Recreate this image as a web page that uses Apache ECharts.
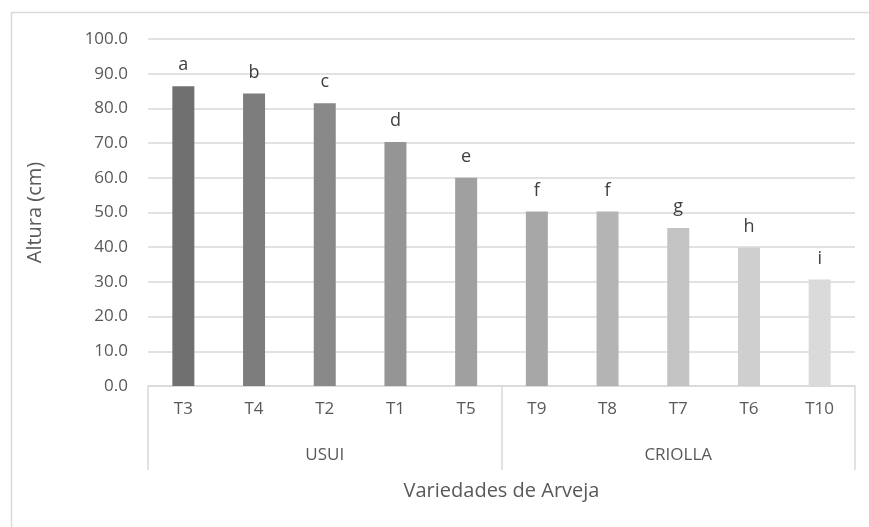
<!DOCTYPE html>
<html>
<head>
<meta charset="utf-8">
<script src="https://cdn.jsdelivr.net/npm/echarts@6/dist/echarts.min.js"></script>
<style>
  html, body { margin: 0; padding: 0; background: #fff; }
  #chart { width: 869px; height: 527px; }
</style>
</head>
<body>
<div id="chart"></div>
<script>
// Plant height by treatment, grouped by pea variety
const treatments = ['T3', 'T4', 'T2', 'T1', 'T5', 'T9', 'T8', 'T7', 'T6', 'T10'];
const heights = [86.4, 84.3, 81.5, 70.3, 60.0, 50.3, 50.3, 45.5, 39.9, 30.7];
const letters = ['a', 'b', 'c', 'd', 'e', 'f', 'f', 'g', 'h', 'i'];
const varieties = ['USUI', 'CRIOLLA'];
const barColors = ['#707070', '#7d7d7d', '#898989', '#959595', '#a0a0a0',
                   '#a7a7a7', '#b4b4b4', '#c3c3c3', '#cfcfcf', '#dadada'];
const yTicks = [0, 10, 20, 30, 40, 50, 60, 70, 80, 90, 100];

const FONT = 'Open Sans';
const TXT = '#595959';
const LINE = '#d9d9d9';

const chart = echarts.init(document.getElementById('chart'));
chart.setOption({
  animation: false,
  textStyle: { fontFamily: FONT },
  graphic: [{
    type: 'rect',
    shape: { x: 11.5, y: 12.5, width: 900, height: 600 },
    style: { fill: 'none', stroke: LINE, lineWidth: 1.5 },
    silent: true
  }],
  grid: { left: 148, right: 14, top: 39, bottom: 141, containLabel: false },
  xAxis: [{
    type: 'category',
    data: treatments,
    position: 'bottom',
    axisLine: { show: true, lineStyle: { color: LINE, width: 1.5 } },
    axisTick: { show: false },
    axisLabel: { color: TXT, fontSize: 17, margin: 15, fontFamily: FONT }
  }, {
    type: 'category',
    data: varieties,
    position: 'bottom',
    axisLine: { show: false },
    axisTick: { show: true, length: 84, lineStyle: { color: LINE, width: 1.5 } },
    axisLabel: { color: TXT, fontSize: 17, margin: 61, fontFamily: FONT },
    name: 'Variedades de Arveja',
    nameLocation: 'middle',
    nameGap: 95,
    nameTextStyle: { color: TXT, fontSize: 20, fontFamily: FONT }
  }],
  yAxis: {
    type: 'value',
    min: yTicks[0],
    max: yTicks[yTicks.length - 1],
    interval: 10,
    axisLine: { show: false },
    axisTick: { show: false },
    splitLine: { lineStyle: { color: LINE, width: 1.5 } },
    axisLabel: {
      color: TXT, fontSize: 17, margin: 20, fontFamily: FONT,
      formatter: v => v.toFixed(1)
    },
    name: 'Altura (cm)',
    nameLocation: 'middle',
    nameRotate: 90,
    nameGap: 103,
    nameTextStyle: { color: TXT, fontSize: 20, fontFamily: FONT }
  },
  series: [{
    type: 'bar',
    xAxisIndex: 0,
    barWidth: 22,
    data: heights.map((v, i) => ({ value: v, itemStyle: { color: barColors[i] } })),
    label: {
      show: true,
      position: 'top',
      distance: 12,
      color: '#404040',
      fontSize: 18,
      fontFamily: FONT,
      formatter: p => letters[p.dataIndex]
    }
  }]
});
</script>
</body>
</html>
